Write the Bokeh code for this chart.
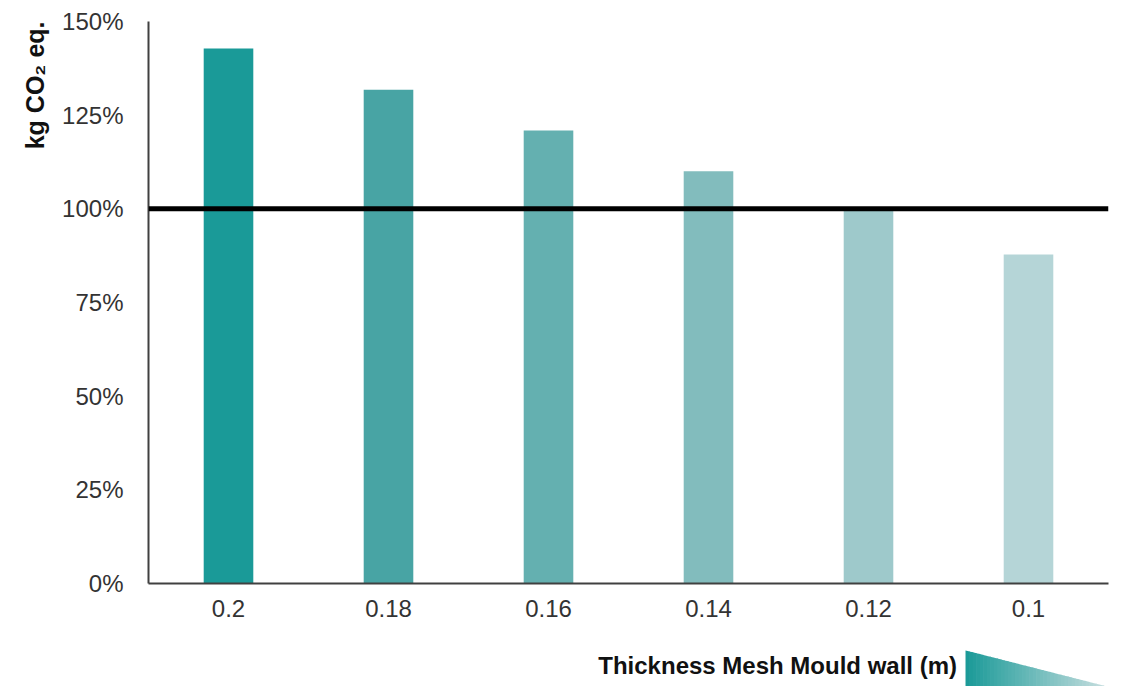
from bokeh.plotting import figure
from bokeh.layouts import column
from bokeh.models import Span, Title, NumeralTickFormatter, FixedTicker, Range1d
from bokeh.core.properties import value
from bokeh.embed import file_html
from bokeh.resources import INLINE

# Wall thickness (m) and embodied carbon relative to the reference wall
thickness = ["0.2", "0.18", "0.16", "0.14", "0.12", "0.1"]
co2_share = [1.428, 1.318, 1.209, 1.10, 0.998, 0.878]
bar_colors = ["#1a9a98", "#48a4a4", "#64b0b0", "#82bcbd", "#9ec9cb", "#b5d5d7"]
y_ticks = [0, 0.25, 0.5, 0.75, 1.0, 1.25, 1.5]
baseline = 1.0
x_title = "Thickness Mesh Mould wall (m)"
y_title = "kg CO₂ eq."

font = "Liberation Sans"
W = 1128
H_MAIN, H_FOOT = 640, 46

p = figure(x_range=thickness, y_range=Range1d(0, 1.5), width=W, height=H_MAIN,
           output_backend="svg", toolbar_location=None,
           min_border_left=148, min_border_right=20, min_border_top=21, min_border_bottom=57)
p.x_range.range_padding = 0
p.outline_line_color = None
p.background_fill_color = "white"
p.border_fill_color = "white"
p.grid.visible = False

p.vbar(x=thickness, top=co2_share, width=0.31, color=bar_colors, line_color=None)
p.add_layout(Span(location=baseline, dimension="width", line_color="black", line_width=5))

p.yaxis.ticker = FixedTicker(ticks=y_ticks)
p.yaxis.formatter = NumeralTickFormatter(format="0%")
for ax in (p.xaxis, p.yaxis):
    ax.axis_line_color = "#404040"
    ax.axis_line_width = 2
    ax.major_tick_line_color = None
    ax.minor_tick_line_color = None
    ax.major_label_text_font = font
    ax.major_label_text_font_size = "24px"
    ax.major_label_text_color = "#333333"
p.yaxis.major_label_standoff = 19
p.xaxis.major_label_standoff = 10

# Vertical axis title, set at the upper end of the axis
p.add_layout(Title(text=y_title, align="right", text_font=font, text_font_size="25px",
                   text_font_style="bold", text_color="#111111", standoff=22, offset=0), "left")

# Footer strip: horizontal axis title and a shaded wedge
f = figure(x_range=Range1d(0, W), y_range=Range1d(0, H_FOOT), width=W, height=H_FOOT,
           output_backend="svg", toolbar_location=None, min_border=0)
f.axis.visible = False
f.grid.visible = False
f.outline_line_color = None
f.border_fill_color = "white"

f.text(x=[950], y=[21], text=[x_title], text_font=value(font), text_font_size="24px",
       text_font_style="bold", text_align="right", text_baseline="middle", text_color="#111111")

x0, x1, ytop, ybot = 960, 1126, 36, 0
n = 40
c0 = (0x1a, 0x9a, 0x98)
c1 = (0xc8, 0xdf, 0xe0)
xs, ys, cols = [], [], []
for i in range(n):
    a, b = i / n, (i + 1) / n
    xa, xb = x0 + (x1 - x0) * a, x0 + (x1 - x0) * b + 0.8
    ya, yb = ytop + (ybot - ytop) * a, ytop + (ybot - ytop) * b
    t = (a + b) / 2
    xs.append([xa, xb, xb, xa])
    ys.append([ya, yb, ybot, ybot])
    cols.append("#%02x%02x%02x" % tuple(int(c0[k] + (c1[k] - c0[k]) * t) for k in range(3)))
f.patches(xs=xs, ys=ys, fill_color=cols, line_color=None)

layout = column(p, f, spacing=0)
open("out.html", "w").write(file_html(layout, INLINE))
